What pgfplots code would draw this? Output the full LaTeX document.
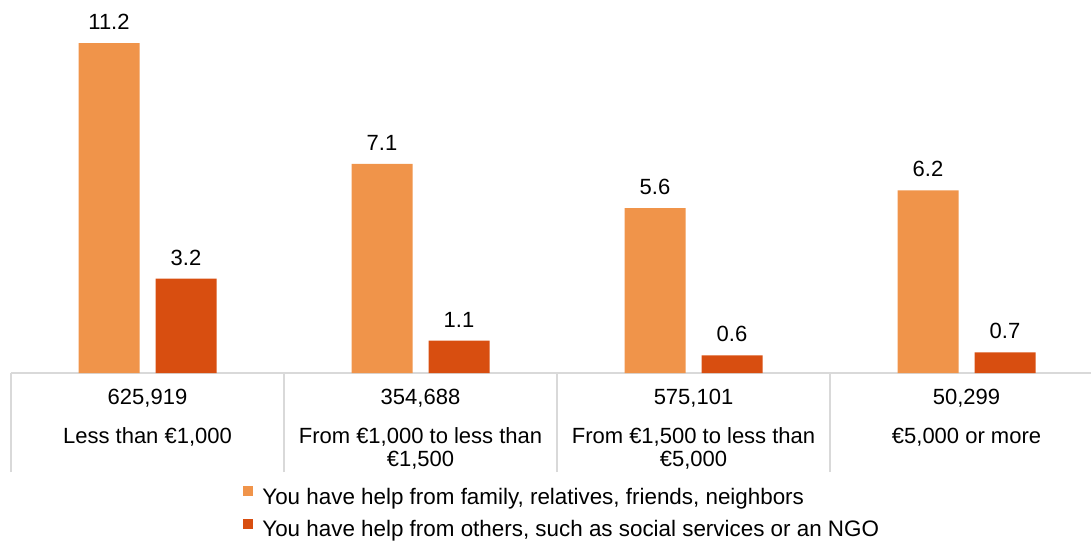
\documentclass[border=0pt]{standalone}
\usepackage{fontspec}
\setmainfont{Liberation Sans}
\usepackage{pgfplots}
\pgfplotsset{compat=1.18}
\definecolor{lightor}{RGB}{240,148,74}
\definecolor{darkor}{RGB}{216,78,16}
\definecolor{gridgray}{RGB}{217,217,217}
\begin{document}
\begin{tikzpicture}
\begin{axis}[
  scale only axis,
  width=540pt, height=186.5pt,
  xmin=-0.5, xmax=3.456, ymin=0, ymax=12.66,
  axis y line=none,
  axis x line*=bottom,
  x axis line style={draw=gridgray, line width=1pt},
  xtick={-0.5,0.5,1.5,2.5},
  xticklabels={,,,},
  tick align=outside,
  major tick length=49.5pt,
  x tick style={draw=gridgray, line width=1pt},
  ybar=8pt,
  bar width=30.5pt,
  clip=false,
  /pgf/number format/assume math mode=true,
  /pgf/number format/fixed, /pgf/number format/precision=1,
  nodes near coords,
  every node near coord/.append style={black, font=\fontsize{11}{13}\selectfont, inner sep=0pt, yshift=6.5pt},
  legend style={
    at={(0.2148,-0.3030)}, anchor=north west,
    draw=none, fill=none, inner sep=0pt,
    font=\fontsize{11.2}{13}\selectfont,
    legend cell align=left,
    row sep=4.6pt, column sep=4.5pt,
    nodes={inner sep=0pt, text height=8pt, text depth=2.5pt},
  },
  legend image code/.code={\fill[draw=none] (0pt,1.25pt) rectangle (5pt,6.25pt);},
]
\addplot[draw=none, fill=lightor] coordinates {(0,11.2) (1,7.1) (2,5.6) (3,6.2)};
\addplot[draw=none, fill=darkor] coordinates {(0,3.2) (1,1.1) (2,0.6) (3,0.7)};
\legend{{You have help from family, relatives, friends, neighbors},
        {You have help from others, such as social services or an NGO}}
\coordinate (sw) at (rel axis cs:0,0);
\begin{scope}[every node/.style={anchor=base, inner sep=0pt, font=\fontsize{11}{13}\selectfont}]
\node[yshift=-15.75pt] at (axis cs:0,0) {625,919};
\node[yshift=-15.75pt] at (axis cs:1,0) {354,688};
\node[yshift=-15.75pt] at (axis cs:2,0) {575,101};
\node[yshift=-15.75pt] at (axis cs:3,0) {50,299};
\node[yshift=-35.25pt] at (axis cs:0,0) {Less than €1,000};
\node[yshift=-35.25pt] at (axis cs:1,0) {From €1,000 to less than};
\node[yshift=-46.75pt] at (axis cs:1,0) {€1,500};
\node[yshift=-35.25pt] at (axis cs:2,0) {From €1,500 to less than};
\node[yshift=-46.75pt] at (axis cs:2,0) {€5,000};
\node[yshift=-35.25pt] at (axis cs:3,0) {€5,000 or more};
\end{scope}
\end{axis}
\pgfresetboundingbox
\path[use as bounding box] ([shift={(-5.5pt,-84.5pt)}]sw) rectangle ([shift={(540pt,186.5pt)}]sw);
\end{tikzpicture}
\end{document}
